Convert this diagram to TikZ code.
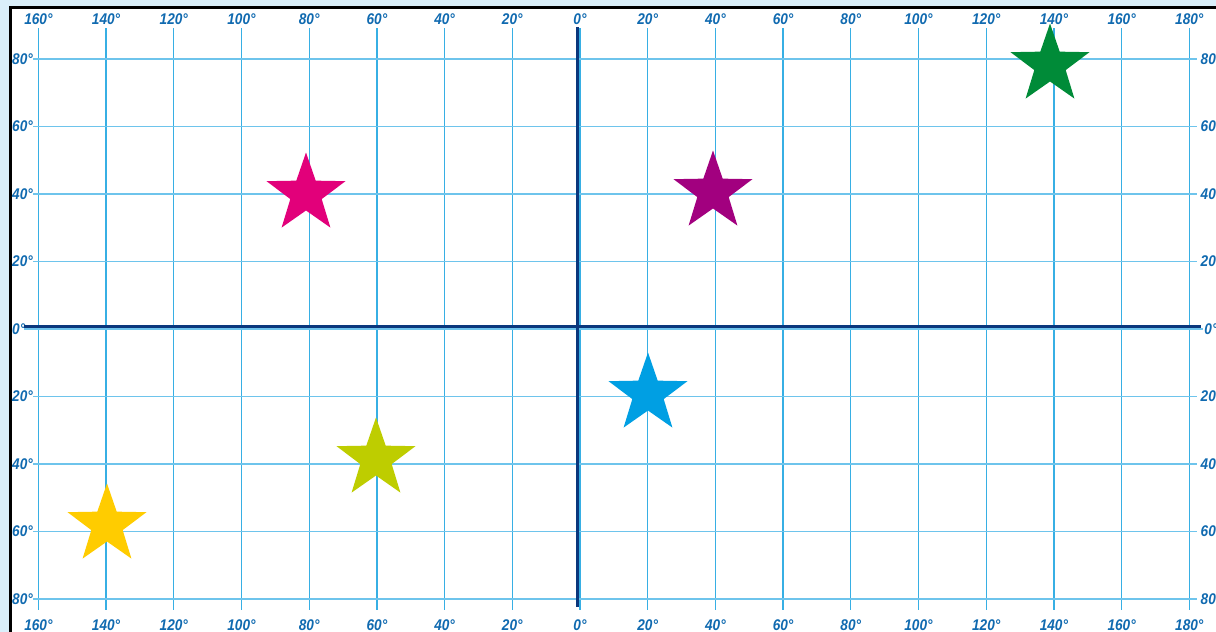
\documentclass[tikz,border=0pt]{standalone}
\usepackage{fontspec}
\setmainfont{Liberation Sans}
\newfontfamily\lblfont[FakeStretch=0.88]{Liberation Sans}
\definecolor{bgblue}{RGB}{218,239,250}
\definecolor{gridv}{RGB}{55,175,228}
\definecolor{gridh}{RGB}{110,196,236}
\definecolor{axisnavy}{RGB}{10,55,125}
\definecolor{lbl}{RGB}{16,106,176}
\definecolor{starpink}{RGB}{226,0,122}
\definecolor{starpurple}{RGB}{162,0,127}
\definecolor{stargreen}{RGB}{0,139,56}
\definecolor{starblue}{RGB}{0,159,227}
\definecolor{starlime}{RGB}{190,205,0}
\definecolor{staryellow}{RGB}{255,204,0}
\newcommand\mystarfill[3]{\fill[#3] (#1,#2) +(-90:41.5) -- +(-54:16.5) -- +(-18:41.5) -- +(18:16.5) -- +(54:41.5) -- +(90:16.5) -- +(126:41.5) -- +(162:16.5) -- +(198:41.5) -- +(234:16.5) -- cycle;}
\begin{document}
\begin{tikzpicture}[x=1pt,y=-1pt,
  lab/.style={font=\fontsize{15.5}{16}\lblfont\bfseries\itshape, text=lbl, inner sep=0pt},
  vgrid/.style={gridv, line width=1.3pt},
  hgrid/.style={gridh, line width=1.8pt},
  axisline/.style={axisnavy, line width=3pt}]
\useasboundingbox (0,0) rectangle (1216,632);
\clip (0,0) rectangle (1216,632);
\fill[bgblue] (0,0) rectangle (1216,632);
\draw[line width=3pt, fill=white] (10,7.5) rectangle (1240,660);
% vertical grid
\foreach \k in {-8,...,9}{
  \draw[vgrid] ({580+67.7*\k},28) -- ({580+67.7*\k},610);
  \pgfmathtruncatemacro\v{abs(20*\k)}
  \node[lab, anchor=base] (top\k) at ({580+67.7*\k},24) {\v°};
  \node[lab, anchor=base] (bot\k) at ({580+67.7*\k},630) {\v°};
}
% horizontal grid
\foreach \j in {-4,...,4}{
  \ifnum\j=0
    \draw[hgrid] (24,329) -- (1203,329);
  \else
    \draw[hgrid] (33,{329+67.5*\j}) -- (1197,{329+67.5*\j});
  \fi
  \pgfmathtruncatemacro\v{abs(20*\j)}
  \node[lab, anchor=west] (lft\j) at (12,{329+67.5*\j}) {\v°};
  \node[lab, anchor=center] (rgt\j) at (1211,{329+67.5*\j}) {\v°};
}
% axes
\draw[axisline] (577,27) -- (577,607);
\draw[axisline] (24,326) -- (1201,326);
% stars
\mystarfill{306}{194}{starpink}
\mystarfill{713}{192}{starpurple}
\mystarfill{1050}{65}{stargreen}
\mystarfill{648}{394}{starblue}
\mystarfill{376}{459}{starlime}
\mystarfill{107}{525}{staryellow}
\end{tikzpicture}
\end{document}
